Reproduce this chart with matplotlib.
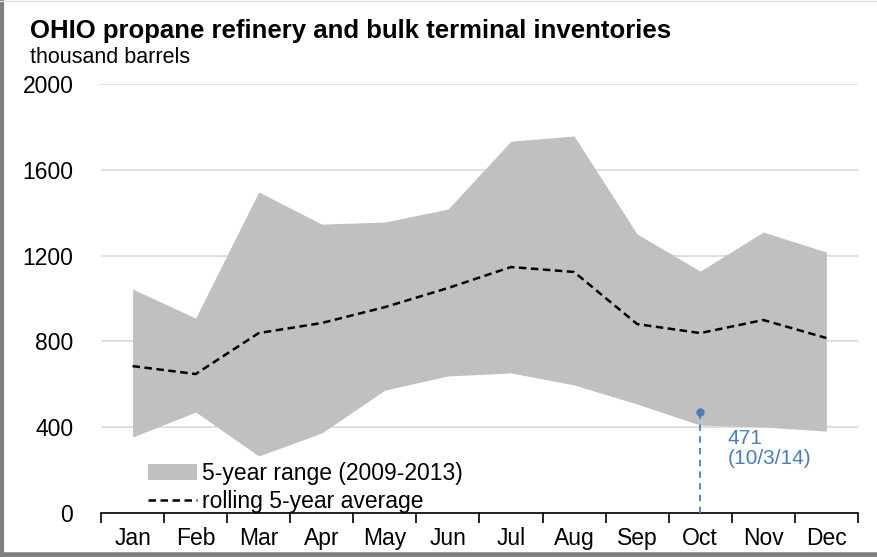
import matplotlib
matplotlib.use("Agg")
import matplotlib.pyplot as plt
from matplotlib.lines import Line2D

months = ["Jan", "Feb", "Mar", "Apr", "May", "Jun",
          "Jul", "Aug", "Sep", "Oct", "Nov", "Dec"]
range_high = [1044, 909, 1497, 1347, 1357, 1417, 1734, 1758, 1301, 1128, 1310, 1217]
range_low = [354, 471, 266, 373, 573, 639, 653, 597, 508, 410, 401, 382]
avg_5yr = [685, 648, 839, 886, 960, 1049, 1147, 1124, 881, 839, 900, 816]
latest_month = 9
latest_value = 471
latest_label = "471\n(10/3/14)"
yticks = [0, 400, 800, 1200, 1600, 2000]

plt.rcParams["font.family"] = ["Liberation Sans", "DejaVu Sans"]
blue = "#4a7ebb"

fig = plt.figure(figsize=(8.77, 5.57), dpi=100)
ax = fig.add_axes([0.1152, 0.079, 0.863, 0.770])

x = list(range(len(months)))
ax.fill_between(x, range_low, range_high, color="#c0c0c0", linewidth=0,
                label="5-year range (2009-2013)", zorder=2)
ax.plot(x, avg_5yr, color="black", linestyle=(0, (3, 1.8)), linewidth=1.8,
        label="rolling 5-year average", zorder=3)

ax.plot([latest_month, latest_month], [0, latest_value], color=blue,
        linestyle=(0, (3.5, 3)), linewidth=1.3, zorder=4)
ax.plot([latest_month], [latest_value], "o", color=blue, markersize=5, zorder=5)
ax.text(latest_month + 0.43, 392, latest_label, color=blue, fontsize=15,
        va="top", ha="left", linespacing=1.05)

ax.set_xlim(-0.5, len(months) - 0.5)
ax.set_ylim(0, 2000)
ax.set_yticks(yticks)
ax.set_yticklabels([str(v) for v in yticks], fontsize=16.5)
ax.tick_params(axis="y", length=0, pad=20)
ax.grid(axis="y", color="#d9d9d9", linewidth=1.2, zorder=0)
ax.set_axisbelow(True)

ax.set_xticks([i - 0.5 for i in range(len(months) + 1)])
ax.set_xticklabels([])
ax.set_xticks(x, minor=True)
ax.set_xticklabels(months, minor=True, fontsize=16.5)
ax.tick_params(axis="x", which="major", direction="out", length=7, width=1.2)
ax.tick_params(axis="x", which="minor", length=0, pad=10)

for side in ["top", "right", "left"]:
    ax.spines[side].set_visible(False)
ax.spines["bottom"].set_linewidth(1.2)

ax.legend(loc="lower left", bbox_to_anchor=(0.062, 0.0), frameon=False,
          fontsize=16.5, handlelength=2.15, handletextpad=0.2,
          labelspacing=0.2, borderaxespad=0, borderpad=0)

fig.text(0.034, 0.945, "OHIO propane refinery and bulk terminal inventories",
         fontsize=18.5, fontweight="bold", ha="left", va="center")
fig.text(0.034, 0.897, "thousand barrels", fontsize=15.5, ha="left", va="center")

# image frame: dark on left and bottom, faint on top
fig.lines.append(Line2D([0.002, 0.002], [0, 1], transform=fig.transFigure,
                        color="#7f7f7f", linewidth=3))
fig.lines.append(Line2D([0, 1], [0.004, 0.004], transform=fig.transFigure,
                        color="#7f7f7f", linewidth=4))
fig.lines.append(Line2D([0, 1], [0.999, 0.999], transform=fig.transFigure,
                        color="#e0e0e0", linewidth=1))

fig.savefig("out.png", dpi=100)
